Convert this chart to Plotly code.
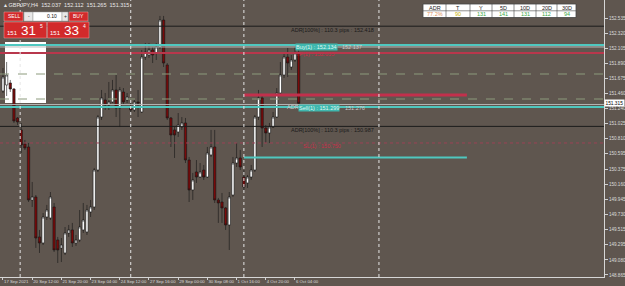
import plotly.graph_objects as go

# ---------------- data ----------------
bars = list(range(82))
opens = [151.493,151.578,151.607,151.521,151.107,150.936,150.736,150.693,149.936,149.979,
         149.408,149.322,149.693,149.679,149.836,149.365,149.251,149.179,149.465,149.508,
         149.322,149.365,149.508,149.479,149.765,149.836,150.364,151.121,151.364,151.293,
         151.336,151.507,151.250,151.478,151.364,151.264,151.221,151.336,151.193,151.978,
         152.007,152.078,152.035,152.121,152.506,151.864,151.107,150.936,150.907,150.978,
         151.036,150.507,150.079,150.336,150.264,150.364,150.264,150.579,150.693,149.936,
         149.907,149.822,149.579,150.007,150.464,150.536,150.264,150.179,150.264,150.364,
         151.121,151.393,150.964,150.893,150.978,151.121,151.464,151.721,151.978,151.835,
         151.935,152.037]
highs = [151.821,151.907,151.650,151.535,151.121,151.036,150.793,150.750,150.193,150.007,
         149.508,149.750,149.865,150.050,149.893,149.408,149.393,149.550,149.579,149.608,
         149.436,149.793,149.893,149.865,149.936,150.393,151.150,151.507,151.464,151.621,
         151.650,151.721,151.550,151.535,151.464,151.336,151.364,151.507,152.078,152.178,
         152.178,152.121,152.178,152.564,152.564,151.892,151.121,150.978,151.178,151.121,
         151.107,150.550,150.322,150.507,150.464,150.436,150.693,150.936,150.936,149.965,
         150.036,149.836,150.050,150.550,150.750,150.650,150.364,150.293,150.436,151.150,
         151.507,151.436,151.007,151.036,151.193,151.535,151.907,152.049,152.107,152.007,
         152.121,152.112]
lows = [151.464,151.421,151.478,151.036,151.007,150.607,150.650,149.907,149.836,149.251,
        149.179,149.293,149.650,149.650,149.193,149.036,149.050,149.150,149.408,149.265,
        149.280,149.336,149.465,149.436,149.693,149.793,150.336,151.078,151.221,151.221,
        151.321,151.121,150.978,151.293,151.321,151.178,151.193,151.121,151.178,151.935,
        151.964,151.892,151.935,152.092,151.835,151.078,150.693,150.536,150.836,150.936,
        150.464,149.907,149.936,150.179,150.250,150.222,150.250,150.550,149.893,149.608,
        149.608,149.508,149.222,149.979,150.407,150.364,150.079,150.108,150.222,150.336,
        151.078,150.693,150.750,150.750,150.964,151.107,151.436,151.678,151.692,151.792,
        151.907,151.265]
closes = [151.692,151.721,151.521,151.064,151.050,150.721,150.679,149.936,149.979,149.393,
          149.322,149.693,149.793,149.979,149.222,149.222,149.293,149.465,149.508,149.322,
          149.365,149.550,149.650,149.793,149.836,150.364,151.121,151.393,151.293,151.336,
          151.507,151.250,151.507,151.336,151.407,151.221,151.336,151.321,151.978,152.049,
          152.078,152.007,152.121,152.506,151.892,151.107,150.864,150.864,151.007,151.036,
          150.507,150.079,150.222,150.264,150.336,150.264,150.607,150.693,149.936,149.893,
          149.822,149.579,149.979,150.464,150.536,150.407,150.122,150.264,150.364,151.121,
          151.393,150.964,150.893,150.978,151.121,151.464,151.721,151.978,151.892,151.935,
          152.035,151.315]

x_tick_bars = [0, 8, 16, 24, 32, 40, 48, 56, 64, 72, 80]
x_tick_text = ["17 Sep 2021", "20 Sep 12:00", "21 Sep 20:00", "23 Sep 04:00", "24 Sep 12:00",
               "27 Sep 16:00", "29 Sep 00:00", "30 Sep 08:00", "1 Oct 16:00", "4 Oct 20:00",
               "6 Oct 04:00"]
y_tick_vals = [152.535, 152.320, 152.105, 151.890, 151.675, 151.460, 151.240, 151.025, 150.810,
               150.595, 150.375, 150.160, 149.945, 149.730, 149.515, 149.295, 149.080, 148.865]
y_tick_text = ["%.3f" % v for v in y_tick_vals]

separator_bars = [4.7, 35.0, 66.0, 103.0]
current_price = 151.315

# full-width horizontal levels: price, colour, width, dash
full_levels = [
    (152.418, "#1c1c1c", 1, "solid"),
    (152.150, "#4fc7bf", 2, "solid"),
    (152.121, "#bdbdbd", 1, "solid"),
    (152.035, "#b8374c", 2, "solid"),
    (151.735, "#8c9a7c", 1, "dash"),
    (151.378, "#8c9a7c", 1, "dash"),
    (151.300, "#b5b5b5", 1, "solid"),
    (151.264, "#4fc7bf", 2, "solid"),
    (150.987, "#1c1c1c", 1, "solid"),
    (150.750, "#9c4256", 1, "dot"),
]
# segment levels: price, start bar, end bar, colour, width
seg_levels = [
    (151.435, 66.0, 127.1, "#c2304c", 3),
    (150.543, 66.0, 127.1, "#4fc7bf", 2),
]

line_texts = [
    (78.6, 152.364, "ADR[100%] : 110.3 pips : 152.418", "#1a1a1a", None),
    (80.0, 152.125, "Buy(1) : 152.134", "#dff7f4", "#3fb7ae"),
    (92.5, 152.125, "152.137", "#cfcfcf", None),
    (80.0, 152.020, "TP(1) : 152.035", "#c8304a", None),
    (77.6, 151.262, "ADR", "#cfcfcf", None),
    (80.9, 151.250, "Sell(1) : 151.299", "#dff7f4", "#3fb7ae"),
    (93.3, 151.250, "151.276", "#cfcfcf", None),
    (78.6, 150.936, "ADR[100%] : 110.3 pips : 150.987", "#1a1a1a", None),
    (82.0, 150.700, "SL(1) : 150.750", "#c8304a", None),
]

# ---------------- figure ----------------
BG = "#5f564f"
W, H = 625, 286
ML, MR, MT, MB = 0, 21, 0, 9
PW, PH = W - ML - MR, H - MT - MB
FONT = "Liberation Sans"


def px(xp):
    return (xp - ML) / PW


def py(yp):
    return 1 - (yp - MT) / PH


fig = go.Figure()
fig.add_trace(go.Candlestick(
    x=bars, open=opens, high=highs, low=lows, close=closes,
    increasing=dict(fillcolor="#ffffff", line=dict(color="#151515", width=0.6)),
    decreasing=dict(fillcolor="#7a0a0a", line=dict(color="#151515", width=0.6)),
    whiskerwidth=0, showlegend=False, hoverinfo="skip",
))

shapes = []
# white box object (background)
shapes.append(dict(type="rect", xref="paper", yref="paper", x0=px(5), x1=px(46), y0=py(103), y1=py(42),
                   fillcolor="#ffffff", line=dict(width=0), layer="below"))

for p, c, w, d in full_levels:
    shapes.append(dict(type="line", xref="paper", yref="y", x0=0, x1=1, y0=p, y1=p,
                       line=dict(color=c, width=w, dash=d), layer="above"))
for p, b0, b1, c, w in seg_levels:
    shapes.append(dict(type="line", xref="x", yref="y", x0=b0, x1=b1, y0=p, y1=p,
                       line=dict(color=c, width=w), layer="above"))
for b in separator_bars:
    shapes.append(dict(type="line", xref="x", yref="paper", x0=b, x1=b, y0=0, y1=1,
                       line=dict(color="#e6e6e6", width=1, dash="dot"), layer="above"))

# one-click trading panel
RED = "#d22a2b"
shapes += [
    dict(type="rect", xref="paper", yref="paper", x0=px(4), x1=px(23), y0=py(21), y1=py(12),
         fillcolor=RED, line=dict(color="#f0a0a0", width=0.5)),
    dict(type="rect", xref="paper", yref="paper", x0=px(24), x1=px(33), y0=py(21), y1=py(12),
         fillcolor="#e8e8e8", line=dict(color="#999999", width=0.5)),
    dict(type="rect", xref="paper", yref="paper", x0=px(33), x1=px(62), y0=py(21), y1=py(12),
         fillcolor="#ffffff", line=dict(color="#999999", width=0.5)),
    dict(type="rect", xref="paper", yref="paper", x0=px(62), x1=px(68), y0=py(21), y1=py(12),
         fillcolor="#e8e8e8", line=dict(color="#999999", width=0.5)),
    dict(type="rect", xref="paper", yref="paper", x0=px(69), x1=px(88), y0=py(21), y1=py(12),
         fillcolor=RED, line=dict(color="#f0a0a0", width=0.5)),
    dict(type="rect", xref="paper", yref="paper", x0=px(4), x1=px(46.5), y0=py(38), y1=py(22),
         fillcolor=RED, line=dict(color="#f0a0a0", width=0.5)),
    dict(type="rect", xref="paper", yref="paper", x0=px(47.5), x1=px(89), y0=py(38), y1=py(22),
         fillcolor=RED, line=dict(color="#f0a0a0", width=0.5)),
]

# ADR table top right
tbl_bounds = [423, 446, 470, 492, 514, 536, 557, 576]
tbl_head = ["ADR", "T", "Y", "5D", "10D", "20D", "30D"]
tbl_vals = ["77.2%", "90", "131", "141", "131", "112", "94"]
tbl_cols = ["#e0905a", "#c9b400", "#37a844", "#37a844", "#37a844", "#37a844", "#37a844"]
shapes.append(dict(type="rect", xref="paper", yref="paper", x0=px(423), x1=px(576), y0=py(17.5), y1=py(4),
                   fillcolor="#ffffff", line=dict(color="#444444", width=0.8)))
shapes.append(dict(type="line", xref="paper", yref="paper", x0=px(423), x1=px(576), y0=py(10.8), y1=py(10.8),
                   line=dict(color="#444444", width=0.6)))
for b in tbl_bounds[1:-1]:
    shapes.append(dict(type="line", xref="paper", yref="paper", x0=px(b), x1=px(b), y0=py(17.5), y1=py(4),
                       line=dict(color="#444444", width=0.6)))

ann = []
for i in range(7):
    cx = (tbl_bounds[i] + tbl_bounds[i + 1]) / 2
    ann.append(dict(xref="paper", yref="paper", x=px(cx), y=py(7.5), text=tbl_head[i], showarrow=False,
                    font=dict(family=FONT, size=5.5, color="#222222"), xanchor="center", yanchor="middle"))
    ann.append(dict(xref="paper", yref="paper", x=px(cx), y=py(14.3), text=tbl_vals[i], showarrow=False,
                    font=dict(family=FONT, size=5.5, color=tbl_cols[i]), xanchor="center", yanchor="middle"))


def panel_text(xp, yp, t, size, color, xa="center", ya="middle"):
    return dict(xref="paper", yref="paper", x=px(xp), y=py(yp), text=t, showarrow=False, borderpad=0,
                xanchor=xa, yanchor=ya, font=dict(family=FONT, size=size, color=color))


# panel texts
ann += [
    panel_text(13.5, 16.5, "SELL", 5, "#ffffff"),
    panel_text(28.5, 16.5, "-", 5, "#333333"),
    panel_text(52, 16.5, "0.10", 5, "#111111"),
    panel_text(65, 16.5, "+", 5, "#333333"),
    panel_text(78.5, 16.5, "BUY", 5, "#ffffff"),
    panel_text(18.5, 33, "151", 6, "#ffffff", xa="right"),
    panel_text(19.5, 30.8, "31", 13.5, "#ffffff", xa="left"),
    panel_text(38.5, 26.3, "5", 5, "#ffffff", xa="left"),
    panel_text(61.5, 33, "151", 6, "#ffffff", xa="right"),
    panel_text(62.5, 30.8, "33", 13.5, "#ffffff", xa="left"),
    panel_text(81.5, 26.3, "4", 5, "#ffffff", xa="left"),
    panel_text(3, 5, "\u25b4 GBPJPY,H4  152.037  152.112  151.265  151.315", 5.5, "#e8e8e8", xa="left"),
]

for b, p, t, c, bg in line_texts:
    d = dict(xref="x", yref="y", x=b, y=p, text=t, showarrow=False, xanchor="left", yanchor="middle",
             font=dict(family=FONT, size=5.5, color=c), borderpad=0)
    if bg:
        d["bgcolor"] = bg
    ann.append(d)

# current price box on price scale
ann.append(dict(xref="paper", yref="y", x=1.0, y=current_price, text="%.3f" % current_price, showarrow=False,
                xanchor="left", yanchor="middle", bgcolor="#ffffff", borderpad=0.5,
                font=dict(family=FONT, size=4.8, color="#000000")))

fig.update_layout(
    width=W, height=H, margin=dict(l=ML, r=MR, t=MT, b=MB),
    paper_bgcolor=BG, plot_bgcolor=BG, shapes=shapes, annotations=ann,
    showlegend=False, boxgap=0.1,
    xaxis=dict(range=[-0.82, 164.66], rangeslider=dict(visible=False), showgrid=False, zeroline=False,
               tickmode="array", tickvals=x_tick_bars, ticktext=x_tick_text, tickangle=0,
               ticks="outside", ticklen=2, tickcolor="#d0d0d0",
               showline=True, linecolor="#d6d6d6", linewidth=1,
               ticklabelposition="outside right",
               tickfont=dict(family=FONT, size=4.3, color="#dcdcdc")),
    yaxis=dict(range=[148.836, 152.792], side="right", showgrid=False, zeroline=False,
               tickmode="array", tickvals=y_tick_vals, ticktext=y_tick_text,
               ticks="outside", ticklen=3, tickcolor="#d0d0d0",
               showline=True, linecolor="#d6d6d6", linewidth=1,
               tickfont=dict(family=FONT, size=4.6, color="#dcdcdc")),
)

fig.write_html("out.html")
